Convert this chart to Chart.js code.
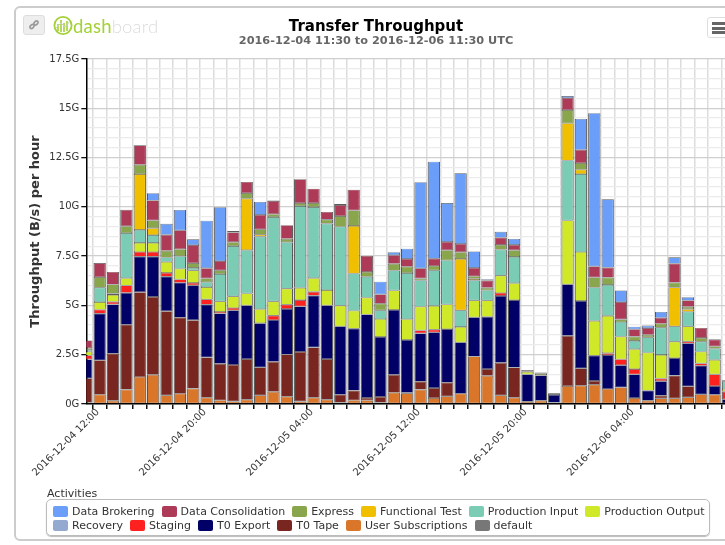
<!DOCTYPE html>
<html><head><meta charset="utf-8">
<script src="https://cdn.jsdelivr.net/npm/chart.js@4"></script>
<style>
html,body{margin:0;padding:0;width:725px;height:545px;overflow:hidden;background:#fff;font-family:"DejaVu Sans",sans-serif}
#stage{position:relative;width:725px;height:545px;overflow:hidden}
#card{position:absolute;left:14px;top:6px;width:760px;height:535px;border:2px solid #ccc;border-radius:6px;box-sizing:border-box}
canvas{position:absolute;left:0;top:0}
#link{position:absolute;left:23px;top:15px;width:22px;height:20px;background:#eee;border:1px solid #ddd;border-radius:3px;box-sizing:border-box}
#logoIcon{position:absolute;left:53px;top:15px}
#logo{position:absolute;left:73px;top:12px;font:300 18.5px/28px Lato,sans-serif;letter-spacing:.2px;color:#dcdcdc}
#logo b{font-weight:400;color:#a3d136}
#menu{position:absolute;left:707px;top:17px;width:40px;height:21px;background:#fff;border:1px solid #ddd;border-radius:3px;box-sizing:border-box}
#menu i{position:absolute;left:4px;width:30px;height:3px;background:#666}
#legendTitle{position:absolute;left:47px;top:487px;font-size:11px;line-height:13px;color:#333}
#legend{position:absolute;left:46px;top:499px;width:664px;height:37px;border:1px solid #bbb;border-radius:5px;box-shadow:0 1px 1px #bbb;box-sizing:border-box;padding:5px 0 0 6px;font-size:11px;color:#333;line-height:13px}
.row{display:flex;height:13.5px}
.item{display:flex;align-items:center;margin-right:7px;white-space:nowrap}
.sw{display:inline-block;width:15px;height:11px;border-radius:2px;margin-right:4px}
</style></head><body>
<div id="stage">
<div id="card"></div>
<canvas id="c" width="752" height="545"></canvas>
<div id="link"><svg width="20" height="18" viewBox="0 0 20 18"><g fill="none" stroke="#999" stroke-width="1.6"><ellipse cx="8" cy="10.5" rx="2.4" ry="1.6" transform="rotate(-45 8 10.5)"/><ellipse cx="12" cy="7" rx="2.4" ry="1.6" transform="rotate(-45 12 7)"/></g></svg></div>
<svg id="logoIcon" width="20" height="21" viewBox="0 0 20 21"><circle cx="10" cy="10.5" r="8.6" fill="none" stroke="#a3d136" stroke-width="1.8"/><g stroke="#a3d136" stroke-width="1.6"><path d="M5 16V9M8 17V5M11 17V8M14 16V6"/></g><path d="M3 13L8 8L12 12L17 6" fill="none" stroke="#ccc" stroke-width="1"/></svg>
<div id="logo"><b>dash</b>board</div>
<div id="menu"><i style="top:4px"></i><i style="top:8.5px"></i><i style="top:13px"></i></div>
<div id="legendTitle">Activities</div>
<div id="legend"></div>
</div>
<script>
const barHours=[-0.5,0.5,1.5,2.5,3.5,4.5,5.5,6.5,7.5,8.5,9.5,10.5,11.5,12.5,13.5,14.5,15.5,16.5,17.5,18.5,19.5,20.5,21.5,22.5,23.5,24.5,25.5,26.5,27.5,28.5,29.5,30.5,31.5,32.5,33.5,34.5,35.5,36.5,37.5,38.5,39.5,40.5,41.5,42.5,43.5,44.5,45.5,46.5,47.5];
const tickLabels=['2016-12-04 12:00','2016-12-04 20:00','2016-12-05 04:00','2016-12-05 12:00','2016-12-05 20:00','2016-12-06 04:00'];
const userSubscriptions=[.07,.47,.17,.73,1.37,1.48,.44,.52,.78,.32,.19,.13,.22,.44,.62,.37,.13,.32,.22,.07,.19,.19,.07,.57,.54,.73,.30,.39,.52,2.41,1.43,.44,.32,.12,.17,.07,.91,.93,.98,.76,.84,.30,.17,.29,.29,.34,.49,.47,0];
const t0Tape=[1.23,1.75,2.38,3.29,4.30,3.95,4.27,3.86,3.47,2.04,1.85,1.85,2.06,1.42,1.52,2.14,2.51,2.55,2.06,.40,.49,.12,.29,.91,.03,.40,.51,.69,0,0,.34,1.65,1.53,0,0,0,2.55,.88,.19,0,0,0,0,.13,1.15,.56,0,0,0];
const t0Export=[.96,2.36,2.50,1.62,1.80,2.04,1.75,1.77,1.77,2.68,2.55,2.77,2.72,2.24,2.12,2.31,2.31,2.63,2.72,3.47,3.14,4.23,3.04,3.29,2.68,2.45,2.83,2.72,2.61,1.99,2.65,3.39,3.42,1.38,1.28,.39,2.61,3.42,1.28,1.72,1.13,1.20,.51,.74,.89,2.18,1.45,.44,.24];
const staging=[.20,.20,.13,.37,.24,.24,.19,.17,.12,.27,.08,.12,0,0,.22,.22,.32,.19,0,0,0,0,0,0,0,.15,.13,0,0,0,0,.15,0,0,0,0,0,0,0,.10,.30,.27,0,.13,0,.10,.12,.59,.39];
const recovery=[0,0,0,0,0,0,0,0,0,0,0,0,0,0,0,0,0,0,0,0,0,0,0,0,0,0,0,0,0,0,0,0,0,0,0,0,0,0,0,0,0,0,0,0,0,0,0,0,0];
const productionOutput=[.19,.39,.35,.37,.46,.46,.56,.54,.64,.62,.54,.59,.61,.71,.73,.81,.62,.69,.78,1.05,.91,.86,.91,.99,1.05,1.21,1.21,1.25,.78,.86,.84,.88,.86,.13,.08,0,3.24,2.48,1.77,1.89,1.15,1.01,1.92,1.20,.83,.76,.59,.74,.13];
const productionInput=[.08,.73,.07,2.29,.66,.40,.22,.64,.12,.25,1.38,2.55,2.19,3.68,4.27,2.36,4.15,3.61,3.37,4.00,1.89,1.05,.44,1.01,2.34,1.33,1.80,2.24,.84,1.01,.51,1.32,1.33,0,0,0,3.04,3.95,1.69,1.57,.74,.42,.78,1.38,.78,.74,.51,.57,.37];
const functionalTest=[0,0,0,0,2.83,.35,0,0,0,0,0,0,2.61,.10,0,0,0,0,0,0,2.41,0,0,0,0,0,0,0,2.61,.08,0,0,0,0,0,0,1.89,.22,0,0,0,0,0,0,1.97,.13,0,0,0];
const express=[.10,.54,.46,.35,.47,.39,.34,.35,.25,.19,.19,.20,.29,.27,.15,.17,.15,.20,.20,.54,.79,.25,.34,.34,.32,.10,.22,.51,.34,.13,.12,.24,.34,0,0,0,.67,.34,.51,.37,.13,.22,.13,.20,.25,.12,.19,.12,.07];
const dataConsolidation=[.39,.71,.64,.83,.99,1.01,.81,.96,.91,.52,.47,.49,.56,.73,.66,.69,1.21,.73,.39,.56,1.05,.81,.47,.44,.40,.51,.37,.42,.42,.42,.37,.37,.27,0,0,0,.61,.67,.56,.51,.88,.37,.34,.30,.96,.32,.51,.34,0];
const dataBrokering=[0,0,0,0,0,.37,.56,1.03,.29,2.41,2.73,.07,0,.66,.03,0,0,0,0,0,0,0,.64,.15,.52,4.37,4.92,1.97,3.58,.84,.07,.29,.30,0,0,0,.10,1.57,7.77,3.46,.59,.13,.13,.30,.32,.17,0,0,0];
const defaultActivity=[0,0,0,0,0,0,0,0,0,0,0,0,0,0,0,0,0,0,0,.05,0,0,0,0,0,0,0,0,0,0,0,0,0,.10,.07,.08,0,0,0,0,0,0,0,0,0,0,0,.03,0];

const legendRows=[
 [['Data Brokering','#6a9ef8'],['Data Consolidation','#ad3a57'],['Express','#8aa64d'],['Functional Test','#efbf00'],['Production Input','#7accb4'],['Production Output','#cfe827']],
 [['Recovery','#93a9cf'],['Staging','#ff2020'],['T0 Export','#000066'],['T0 Tape','#7a2620'],['User Subscriptions','#d9762a'],['default','#777777']]];
const colorOf=Object.fromEntries(legendRows.flat());
const stack=[['User Subscriptions',userSubscriptions],['T0 Tape',t0Tape],['T0 Export',t0Export],['Staging',staging],['Recovery',recovery],['Production Output',productionOutput],['Production Input',productionInput],['Functional Test',functionalTest],['Express',express],['Data Consolidation',dataConsolidation],['Data Brokering',dataBrokering],['default',defaultActivity]];

document.getElementById('legend').innerHTML=legendRows.map(r=>'<div class="row">'+r.map(([n,c])=>`<span class="item"><span class="sw" style="background:${c}"></span>${n}</span>`).join('')+'</div>').join('');

new Chart(document.getElementById('c'),{
 type:'bar',
 data:{labels:barHours,datasets:stack.map(([n,v])=>({label:n,data:v.map(x=>x||null),backgroundColor:colorOf[n],borderColor:'rgba(35,35,35,.75)',borderWidth:{left:1,right:1,top:.6,bottom:.6},borderSkipped:false,stack:'a',barPercentage:.92,categoryPercentage:1}))},
 options:{
  responsive:false,animation:false,
  layout:{padding:{left:24,right:24,top:0,bottom:0}},
  plugins:{
   legend:{display:false},tooltip:{enabled:false},
   title:{display:true,text:'Transfer Throughput',color:'#000',font:{family:'"DejaVu Sans"',size:15,weight:'bold'},padding:{top:18,bottom:-2}},
   subtitle:{display:true,text:'2016-12-04 11:30 to 2016-12-06 11:30 UTC',color:'#666',font:{family:'"DejaVu Sans"',size:11.3,weight:'bold'},padding:{top:0,bottom:11.4}}
  },
  scales:{
   x:{type:'linear',min:-0.5,max:47.5,stacked:true,offset:false,
    afterBuildTicks:s=>{s.ticks=barHours.slice(1).map(h=>({value:h-0.5}));},
    afterFit:s=>{s.height=141;},
    grid:{offset:false,color:'#dcdcdc',lineWidth:1.5,tickColor:'#111',tickLength:5,drawTicks:true},
    border:{color:'#000',width:1.5},
    ticks:{autoSkip:false,minRotation:45,maxRotation:45,padding:-2.5,labelOffset:5,color:'#333',font:{family:'"DejaVu Sans"',size:10},
     callback:v=>(v%8===0&&tickLabels[v/8])||''}
   },
   y:{min:0,max:17.5,stacked:true,
    afterBuildTicks:s=>{s.ticks=Array.from({length:36},(_,i)=>({value:i/2}));},
    afterFit:s=>{s.width=62.3;},
    grid:{color:c=>c.tick&&c.tick.value%2.5===0?'#cfcfcf':'#ebebeb',lineWidth:1.3,tickLength:5,tickColor:c=>c.tick&&c.tick.value%2.5===0?'#111':'rgba(0,0,0,0)'},
    border:{color:'#000',width:1.5},
    title:{display:true,text:'Throughput (B/s) per hour',color:'#333',font:{family:'"DejaVu Sans"',size:13,weight:'bold'},padding:{top:4.2,bottom:0}},
    ticks:{autoSkip:false,padding:2,color:'#333',font:{family:'"DejaVu Sans"',size:10},
     callback:v=>v%2.5===0?v+'G':''}
   }
  }
 }
});
</script>
</body></html>
